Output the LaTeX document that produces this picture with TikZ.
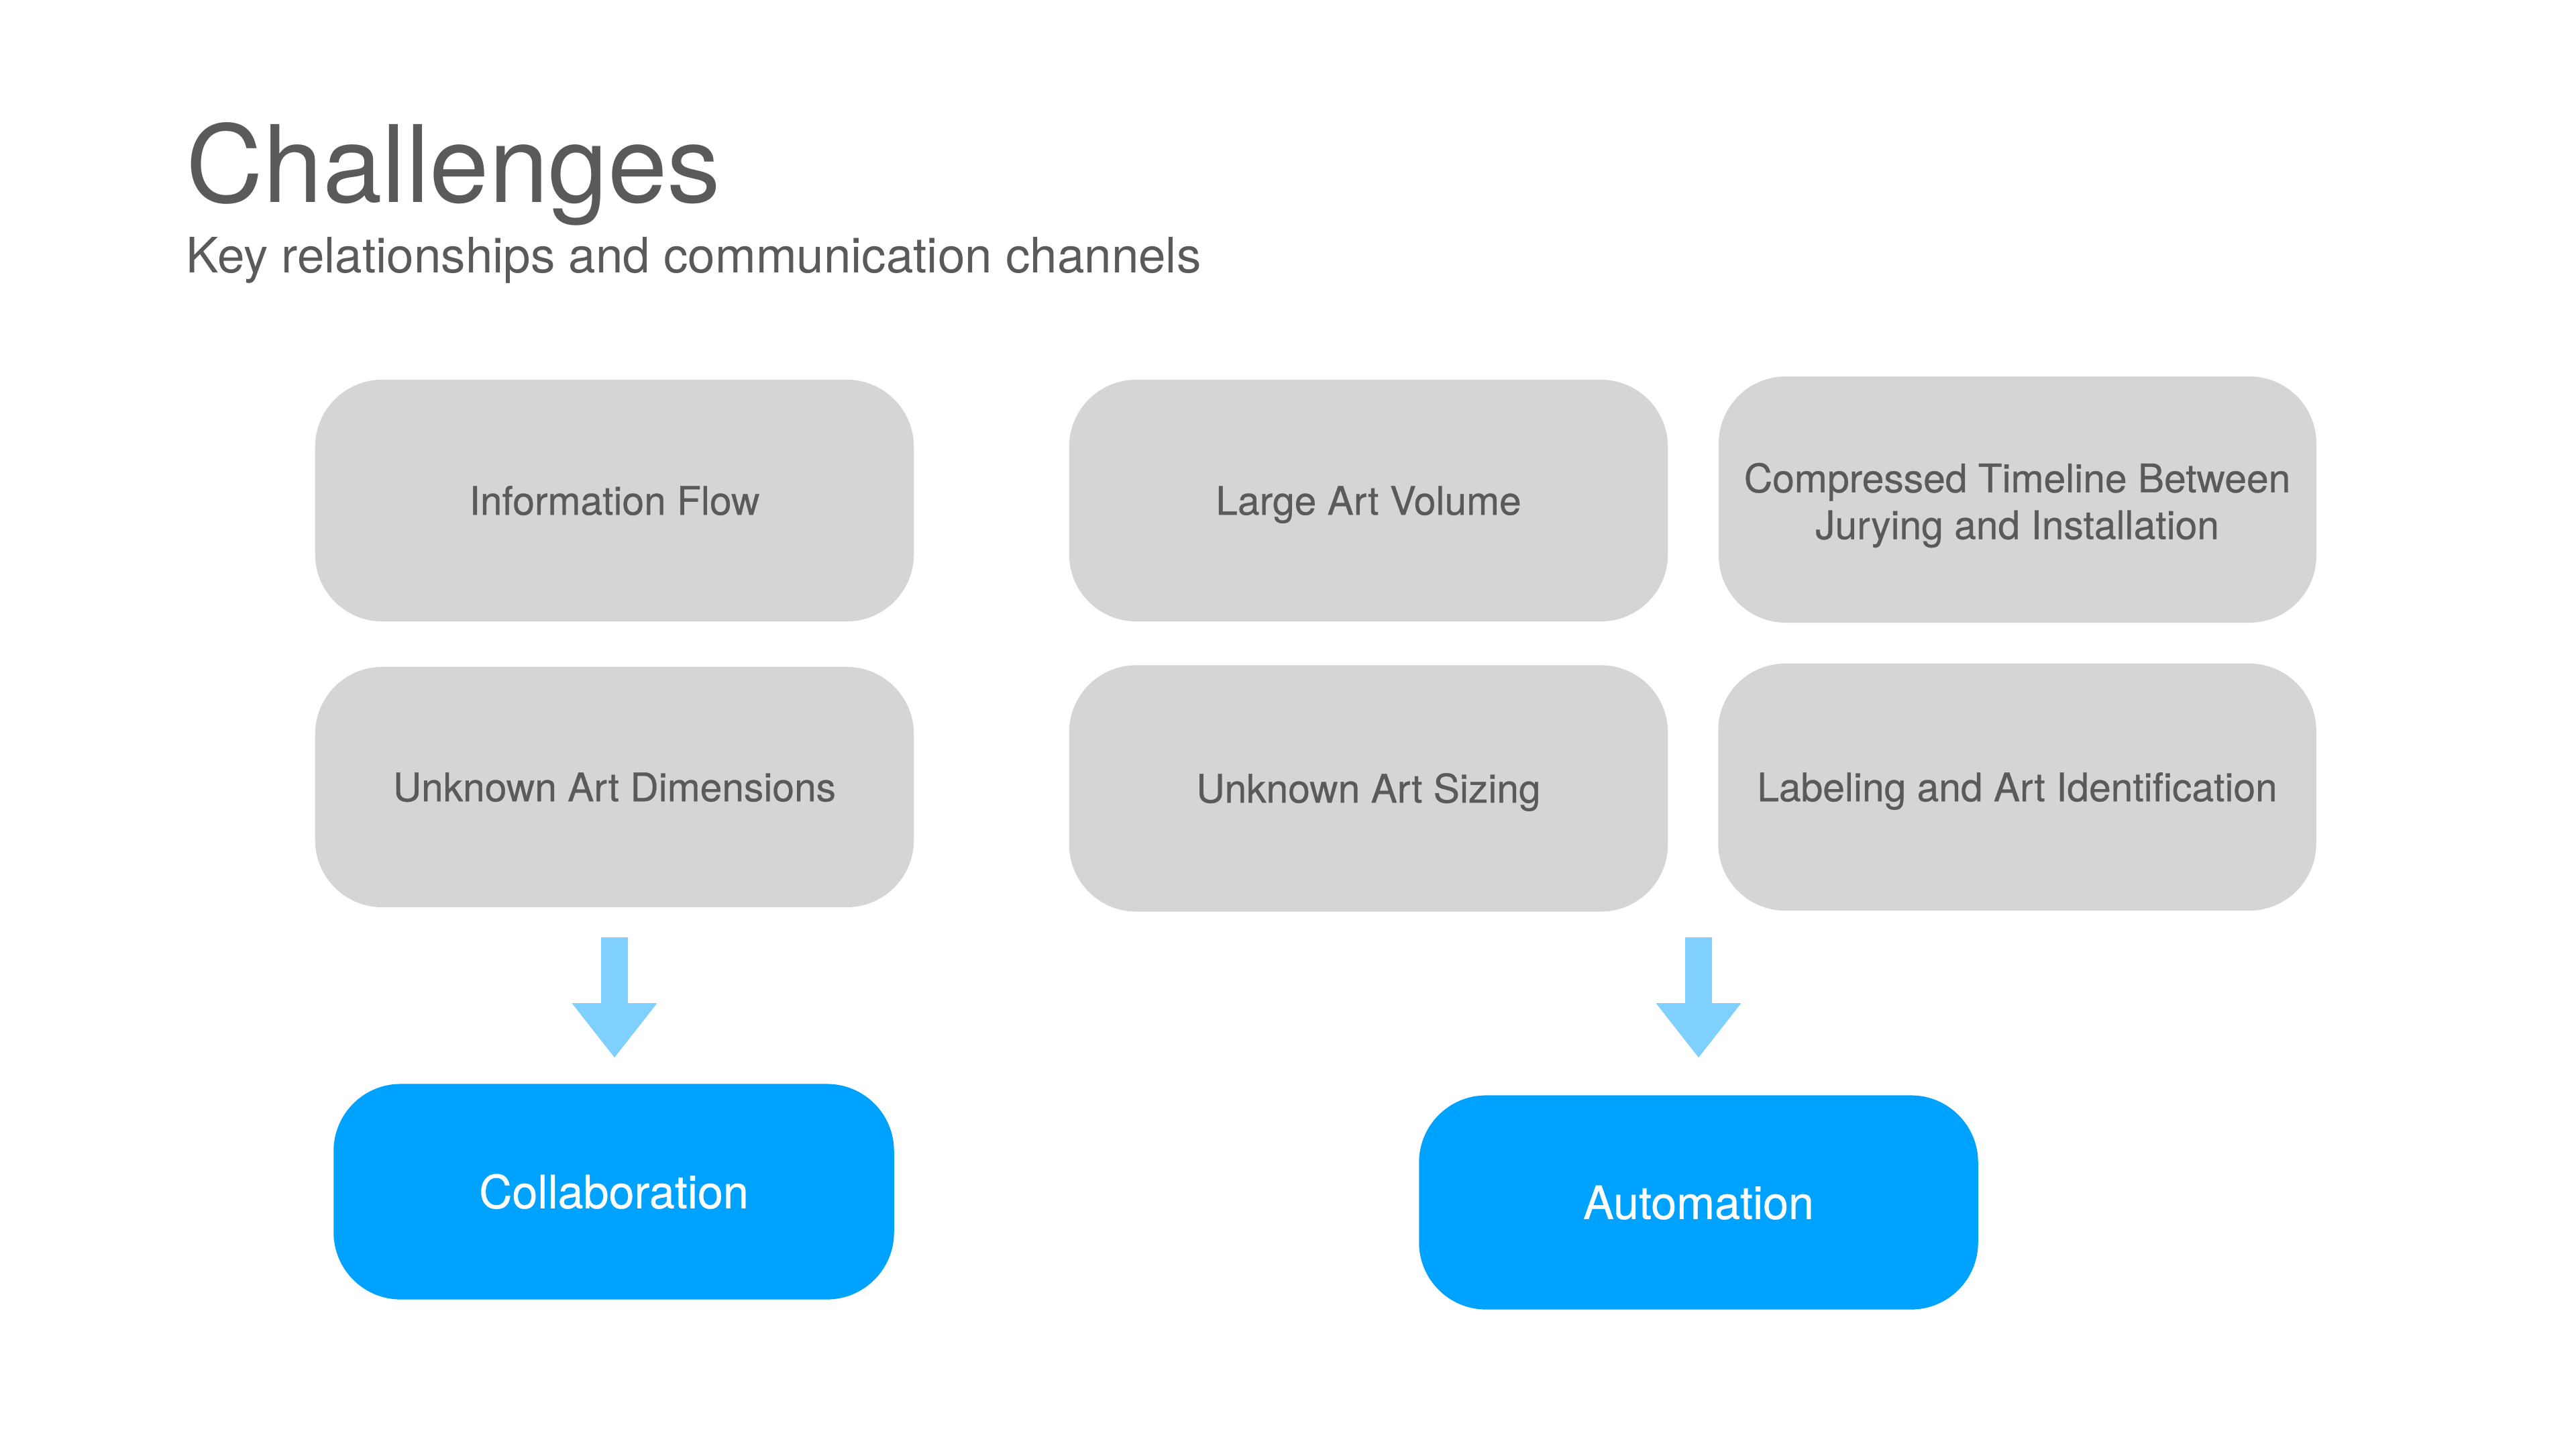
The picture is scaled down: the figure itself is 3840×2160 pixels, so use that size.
\documentclass[tikz,border=0pt]{standalone}
\usepackage{fontspec}
\setmainfont{TeX Gyre Heros}
\newfontfamily\mediumfont[FakeBold=0.5]{TeX Gyre Heros}
\definecolor{boxgray}{HTML}{D5D5D5}
\definecolor{txtgray}{HTML}{5A5A5A}
\definecolor{bluebox}{HTML}{00A2FF}
\definecolor{arrowblue}{HTML}{80D0FF}
\begin{document}
\begin{tikzpicture}[x=0.01cm,y=-0.01cm,
  graybase/.style={draw=none,fill=boxgray,rounded corners=1cm,inner sep=0pt,
    text=txtgray,font=\mediumfont\fontsize{16.7}{19.8}\selectfont,align=center},
  graybox/.style={graybase,text height=12pt,text depth=0pt},
  bluenode/.style={draw=none,fill=bluebox,rounded corners=1cm,inner sep=0pt,
    text=white,font=\mediumfont\fontsize{19.4}{23}\selectfont,align=center,
    text height=14pt,text depth=0pt},
  blockarrow/.style={fill=arrowblue,draw=none}]
\useasboundingbox (0,0) rectangle (3840,2160);
\fill[white] (0,0) rectangle (3840,2160);
\node[anchor=base west,inner sep=0pt,text=txtgray,font=\fontsize{45.3}{50}\selectfont] (title) at (277,301) {Challenges};
\node[anchor=base west,inner sep=0pt,text=txtgray,font=\fontsize{20.7}{24}\selectfont] (subtitle) at (277,406) {Key relationships and communication channels};
% gray boxes
\node[graybox,minimum width=8.92cm,minimum height=3.6cm] (b1) at (916,746) {Information Flow};
\node[graybox,minimum width=8.92cm,minimum height=3.58cm] (b2) at (916,1173) {Unknown Art Dimensions};
\node[graybox,minimum width=8.92cm,minimum height=3.6cm] (b3) at (2040,746) {Large Art Volume};
\fill[boxgray,rounded corners=1cm] (2562,561) rectangle (3453,928);
\node[graybase,fill=none] (b4) at (3007,753) {Compressed Timeline Between\\Jurying and Installation};
\node[graybox,minimum width=8.92cm,minimum height=3.67cm] (b5) at (2040,1175) {Unknown Art Sizing};
\node[graybox,minimum width=8.91cm,minimum height=3.68cm] (b6) at (3007,1173) {Labeling and Art Identification};
% blue boxes
\node[bluenode,minimum width=8.35cm,minimum height=3.21cm] (c1) at (915,1776) {Collaboration};
\node[bluenode,minimum width=8.33cm,minimum height=3.19cm] (c2) at (2532,1792) {Automation};
% block arrows
\coordinate (a1) at (916,1397);
\coordinate (a2) at (2532,1397);
\foreach \a in {a1,a2}{
  \fill[blockarrow] ([xshift=-0.2cm]\a) -- ([xshift=0.2cm]\a) -- ([xshift=0.2cm,yshift=-0.98cm]\a)
    -- ([xshift=0.635cm,yshift=-0.98cm]\a) -- ([yshift=-1.79cm]\a)
    -- ([xshift=-0.635cm,yshift=-0.98cm]\a) -- ([xshift=-0.2cm,yshift=-0.98cm]\a) -- cycle;
}
\end{tikzpicture}
\end{document}
